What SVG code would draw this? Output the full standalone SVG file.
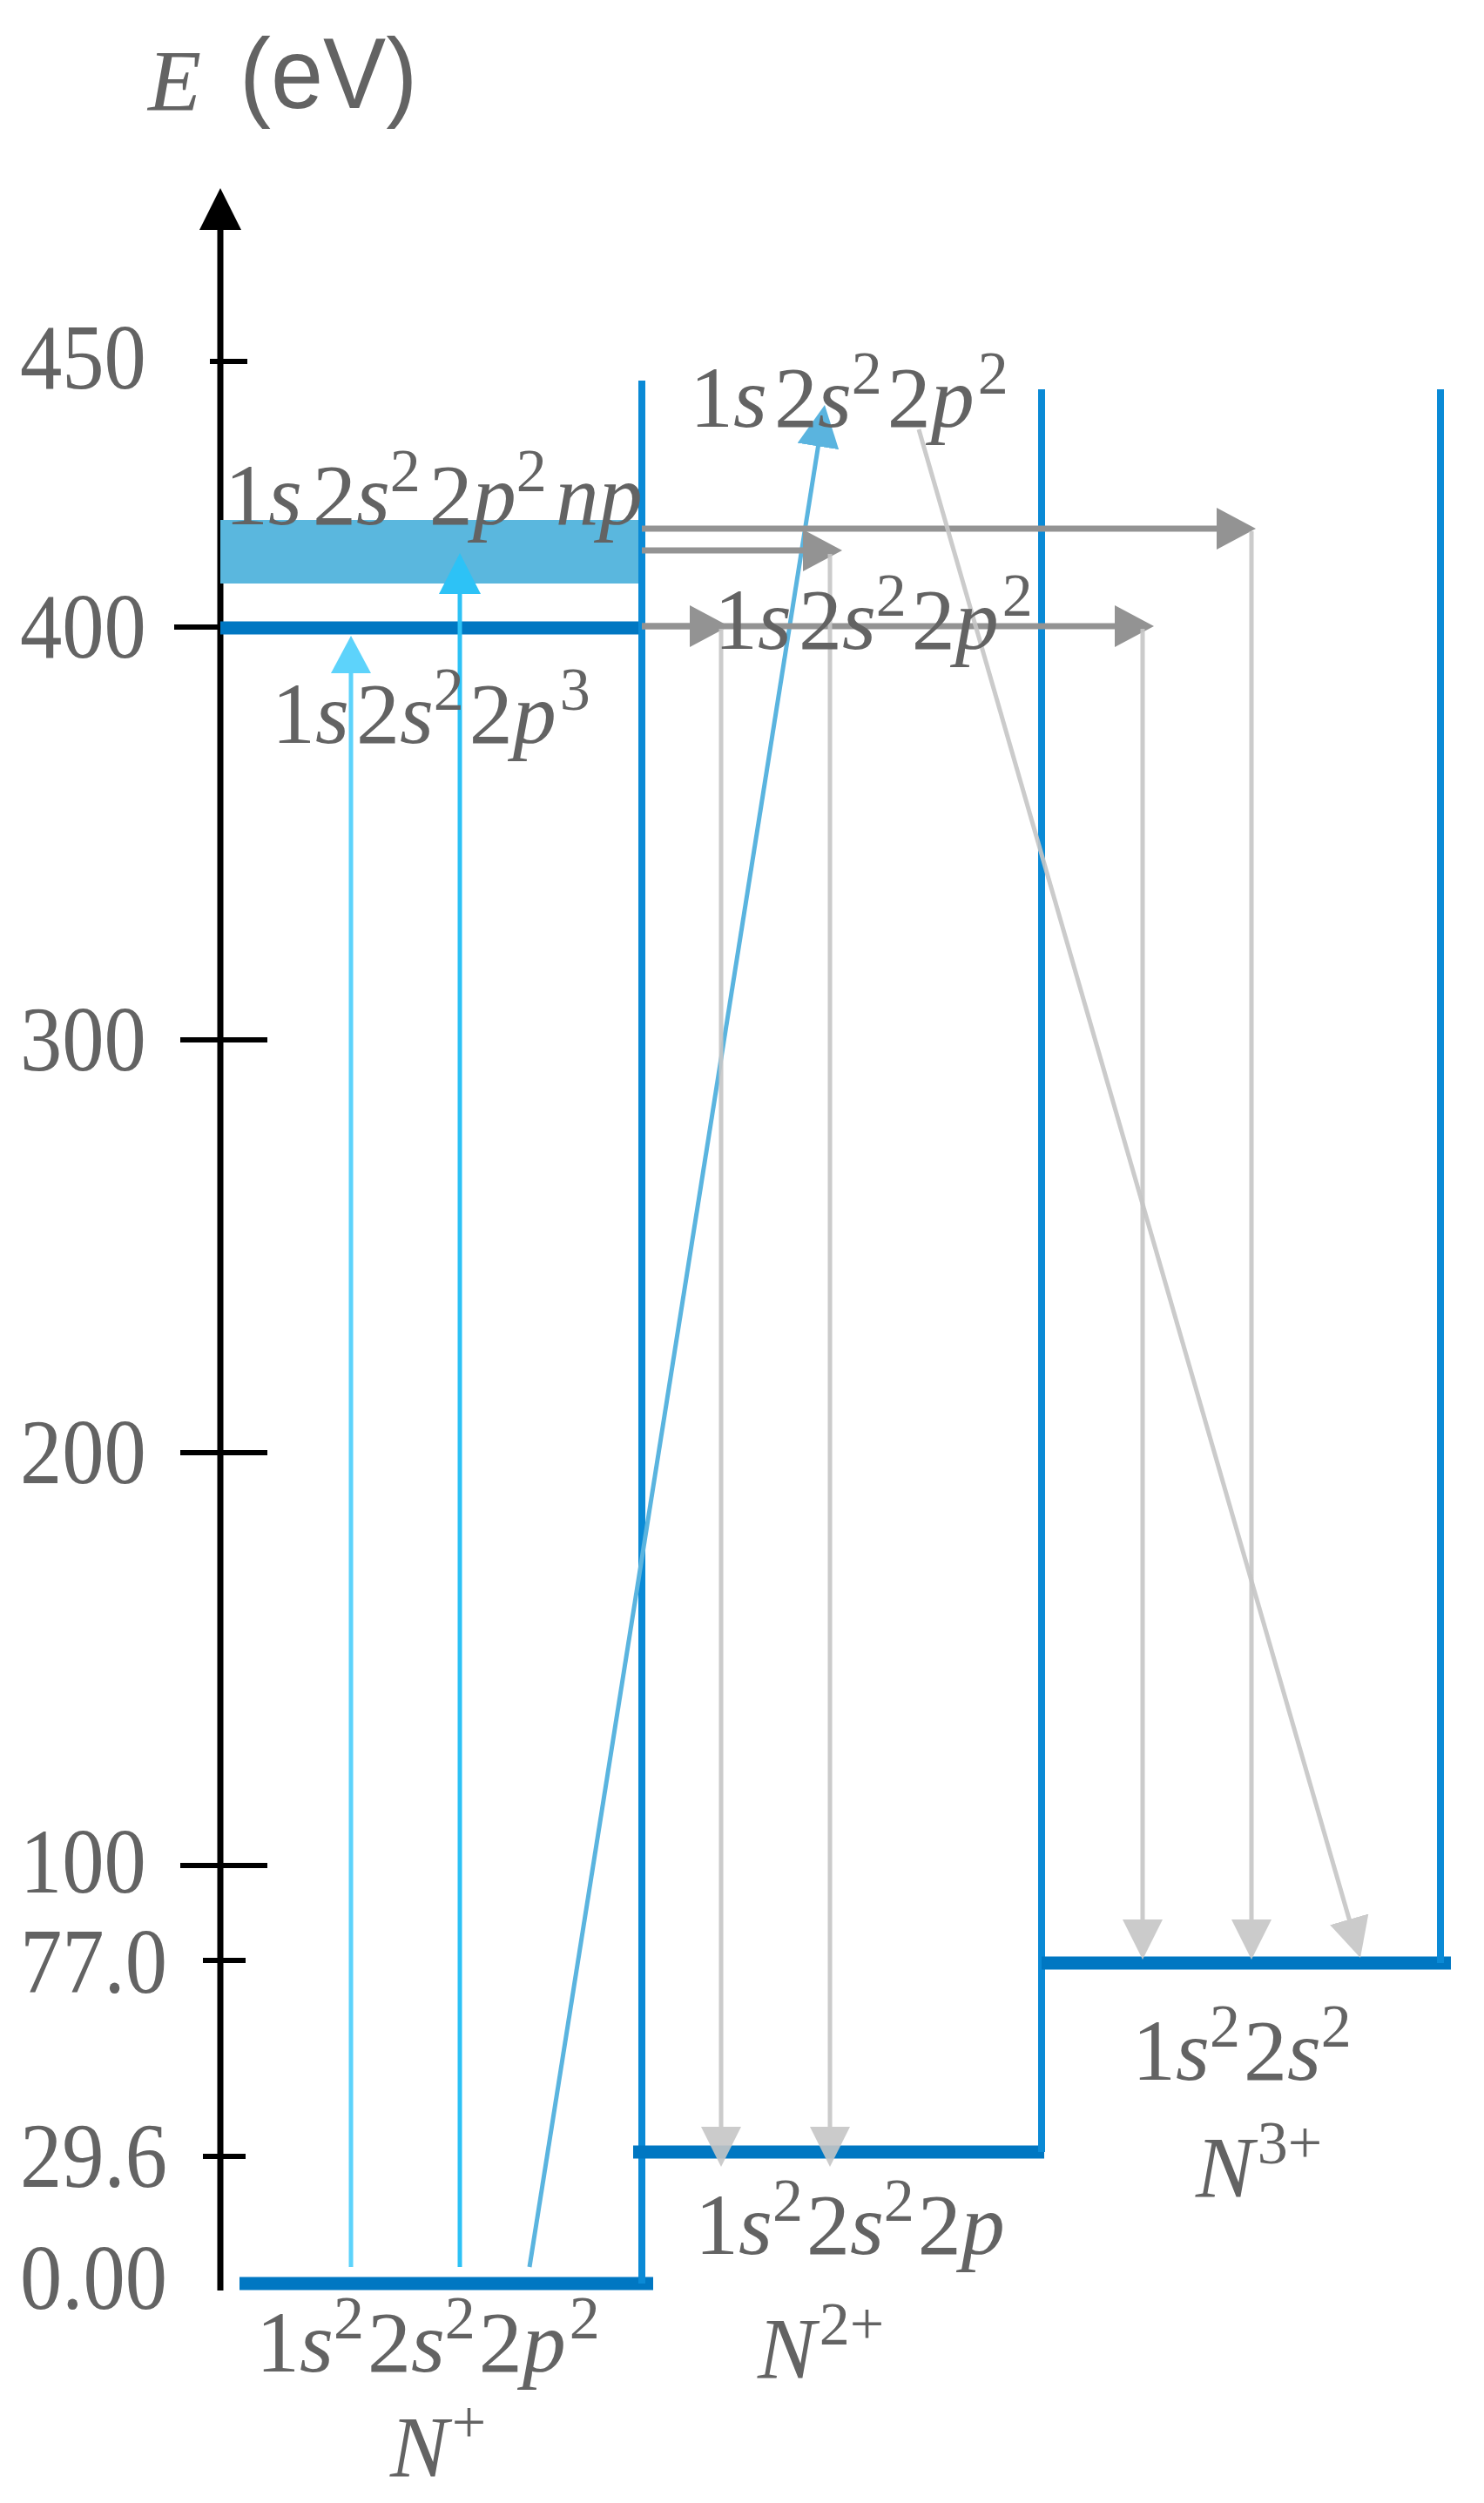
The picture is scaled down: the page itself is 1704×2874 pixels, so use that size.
<svg xmlns="http://www.w3.org/2000/svg" width="1704" height="2874" viewBox="0 0 1704 2874">
  <style>
    .t { font-family: "Liberation Serif", "Times New Roman", serif; fill: #636363; font-size: 100px; }
    .tick { font-family: "Liberation Serif", "Times New Roman", serif; fill: #636363; font-size: 105px; }
    .i { font-style: italic; }
    .sup { font-size: 70px; }
    .lvl { stroke: #0077c2; stroke-width: 15; fill: none; }
    .wall { stroke: #0a8ad6; stroke-width: 8; fill: none; }
    .ax { stroke: #000; stroke-width: 7; fill: none; }
    .tk { stroke: #000; stroke-width: 6; fill: none; }
    .cy1 { stroke: #5dd3fb; stroke-width: 5; fill: none; }
    .cy2 { stroke: #2dc2f6; stroke-width: 5; fill: none; }
    .bl { stroke: #5ab4df; stroke-width: 5; fill: none; }
    .dg { stroke: #939393; stroke-width: 7; fill: none; }
    .lg { stroke: #c6c6c6; stroke-width: 5; fill: none; opacity: 0.9; }
  </style>
  <defs>
    <marker id="mAxis" markerUnits="userSpaceOnUse" markerWidth="48" markerHeight="48" refX="36" refY="24" orient="auto">
      <path d="M0,0 L48,24 L0,48 Z" fill="#000"/>
    </marker>
    <marker id="mCy1" markerUnits="userSpaceOnUse" markerWidth="43" markerHeight="46" refX="31" refY="23" orient="auto">
      <path d="M0,0 L43,23 L0,46 Z" fill="#5dd3fb"/>
    </marker>
    <marker id="mCy2" markerUnits="userSpaceOnUse" markerWidth="47" markerHeight="48" refX="35" refY="24" orient="auto">
      <path d="M0,0 L47,24 L0,48 Z" fill="#2dc2f6"/>
    </marker>
    <marker id="mBl" markerUnits="userSpaceOnUse" markerWidth="48" markerHeight="48" refX="36" refY="24" orient="auto">
      <path d="M0,0 L48,24 L0,48 Z" fill="#5ab4df"/>
    </marker>
    <marker id="mDg" markerUnits="userSpaceOnUse" markerWidth="45" markerHeight="48" refX="33" refY="24" orient="auto">
      <path d="M0,0 L45,24 L0,48 Z" fill="#939393"/>
    </marker>
    <marker id="mLg" markerUnits="userSpaceOnUse" markerWidth="46" markerHeight="46" refX="34" refY="23" orient="auto">
      <path d="M0,0 L46,23 L0,46 Z" fill="#c6c6c6"/>
    </marker>
  </defs>

  <rect width="1704" height="2874" fill="#fff"/>

  <!-- axis -->
  <g id="axis">
    <line class="ax" x1="253" y1="2630" x2="253" y2="228" marker-end="url(#mAxis)"/>
    <line class="tk" x1="241" y1="415" x2="284" y2="415"/>
    <line class="tk" x1="200" y1="720" x2="253" y2="720"/>
    <line class="tk" x1="207" y1="1194" x2="307" y2="1194"/>
    <line class="tk" x1="207" y1="1668" x2="307" y2="1668"/>
    <line class="tk" x1="207" y1="2142" x2="307" y2="2142"/>
    <line class="tk" x1="233" y1="2251" x2="282" y2="2251"/>
    <line class="tk" x1="233" y1="2476" x2="282" y2="2476"/>
    <text class="t i" x="170" y="126" font-size="120">E</text>
    <text transform="translate(275,124) scale(0.94,1)" font-family="Liberation Sans, Arial, sans-serif" font-size="115" fill="#636363">(eV)</text>
    <g transform="scale(0.92,1)">
      <text class="tick" x="25" y="446">450</text>
      <text class="tick" x="25" y="755">400</text>
      <text class="tick" x="25" y="1229">300</text>
      <text class="tick" x="25" y="1703">200</text>
      <text class="tick" x="25" y="2173">100</text>
      <text class="tick" x="25" y="2288">77.0</text>
      <text class="tick" x="25" y="2511">29.6</text>
      <text class="tick" x="25" y="2651">0.00</text>
    </g>
  </g>

  <!-- N+ ion -->
  <g id="n1plus">
    <rect id="band" x="253" y="597" width="482" height="73" fill="#5ab7de"/>
    <line class="lvl" x1="253" y1="721" x2="737" y2="721" stroke-width="14"/>
    <line class="lvl" x1="275" y1="2622" x2="750" y2="2622"/>
    <line class="wall" x1="737" y1="437" x2="737" y2="2622"/>
  </g>

  <!-- N2+ ion -->
  <g id="n2plus">
    <line class="lvl" x1="727" y1="2471" x2="1199" y2="2471"/>
    <line class="wall" x1="1196" y1="447" x2="1196" y2="2471"/>
  </g>

  <!-- N3+ ion -->
  <g id="n3plus">
    <line class="lvl" x1="1196" y1="2254" x2="1666" y2="2254"/>
    <line class="wall" x1="1654" y1="447" x2="1654" y2="2254"/>
  </g>

  <!-- connectors -->
  <g id="connectors">
    <line class="cy1" x1="403" y1="2603" x2="403" y2="742" marker-end="url(#mCy1)"/>
    <line class="cy2" x1="528" y1="2603" x2="528" y2="647" marker-end="url(#mCy2)"/>
    <line class="bl" x1="608" y1="2603" x2="945.1" y2="476.9" marker-end="url(#mBl)"/>
    <line class="dg" x1="737" y1="607" x2="1430" y2="607" marker-end="url(#mDg)"/>
    <line class="dg" x1="737" y1="632" x2="955" y2="632" marker-end="url(#mDg)"/>
    <line class="dg" x1="737" y1="719" x2="1313" y2="719" marker-end="url(#mDg)"/>
    <line class="dg" x1="737" y1="719" x2="825" y2="719" marker-end="url(#mDg)"/>
    <line class="lg" x1="828" y1="722" x2="828" y2="2476" marker-end="url(#mLg)"/>
    <line class="lg" x1="953" y1="636" x2="953" y2="2476" marker-end="url(#mLg)"/>
    <line class="lg" x1="1312" y1="722" x2="1312" y2="2238" marker-end="url(#mLg)"/>
    <line class="lg" x1="1437" y1="610" x2="1437" y2="2238" marker-end="url(#mLg)"/>
    <line class="lg" x1="1055" y1="493" x2="1558.7" y2="2236.5" stroke-width="4" marker-end="url(#mLg)"/>
  </g>

  <!-- labels -->
  <g id="labels">
    <text id="lbl-band" class="t" x="258" y="602">1<tspan class="i">s</tspan><tspan dx="12">2</tspan><tspan class="i">s</tspan><tspan class="sup" dy="-38">2</tspan><tspan dy="38" dx="10">2</tspan><tspan class="i">p</tspan><tspan class="sup" dy="-38">2</tspan><tspan class="i" dy="38" dx="10">n</tspan><tspan class="i">p</tspan></text>
    <text id="lbl-2p3" class="t" x="312" y="853">1<tspan class="i">s</tspan><tspan dx="8">2</tspan><tspan class="i">s</tspan><tspan class="sup" dy="-38">2</tspan><tspan dy="38" dx="6">2</tspan><tspan class="i">p</tspan><tspan class="sup" dy="-38" dx="4">3</tspan></text>
    <text id="lbl-top" class="t" x="792" y="490">1<tspan class="i">s</tspan><tspan dx="8">2</tspan><tspan class="i">s</tspan><tspan class="sup" dy="-38">2</tspan><tspan dy="38" dx="6">2</tspan><tspan class="i">p</tspan><tspan class="sup" dy="-38" dx="4">2</tspan></text>
    <text id="lbl-mid" class="t" x="820" y="745">1<tspan class="i">s</tspan><tspan dx="8">2</tspan><tspan class="i">s</tspan><tspan class="sup" dy="-38">2</tspan><tspan dy="38" dx="6">2</tspan><tspan class="i">p</tspan><tspan class="sup" dy="-38" dx="4">2</tspan></text>
    <text id="lbl-g1" class="t" x="294" y="2723">1<tspan class="i">s</tspan><tspan class="sup" dy="-38">2</tspan><tspan dy="38" dx="4">2</tspan><tspan class="i">s</tspan><tspan class="sup" dy="-38">2</tspan><tspan dy="38" dx="4">2</tspan><tspan class="i">p</tspan><tspan class="sup" dy="-38" dx="4">2</tspan></text>
    <text id="lbl-n1" class="t" x="448" y="2843"><tspan class="i">N</tspan><tspan class="sup" dy="-38" dx="4">+</tspan></text>
    <text id="lbl-g2" class="t" x="798" y="2588">1<tspan class="i">s</tspan><tspan class="sup" dy="-38">2</tspan><tspan dy="38" dx="4">2</tspan><tspan class="i">s</tspan><tspan class="sup" dy="-38">2</tspan><tspan dy="38" dx="4">2</tspan><tspan class="i">p</tspan></text>
    <text id="lbl-n2" class="t" x="870" y="2730"><tspan class="i">N</tspan><tspan class="sup" dy="-38" dx="4">2+</tspan></text>
    <text id="lbl-g3" class="t" x="1300" y="2388">1<tspan class="i">s</tspan><tspan class="sup" dy="-38">2</tspan><tspan dy="38" dx="4">2</tspan><tspan class="i">s</tspan><tspan class="sup" dy="-38">2</tspan></text>
    <text id="lbl-n3" class="t" x="1373" y="2522"><tspan class="i">N</tspan><tspan class="sup" dy="-38" dx="4">3+</tspan></text>
  </g>
</svg>
